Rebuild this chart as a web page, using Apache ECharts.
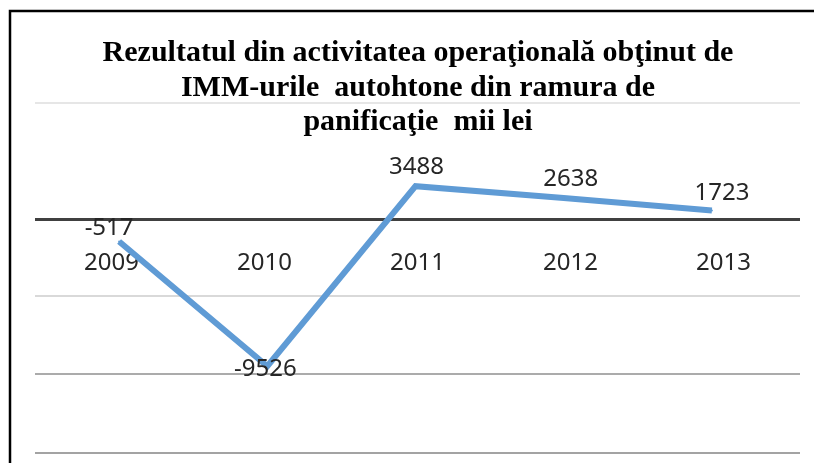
<!DOCTYPE html>
<html>
<head>
<meta charset="utf-8">
<script src="https://cdn.jsdelivr.net/npm/echarts@6/dist/echarts.min.js"></script>
<style>
  html, body { margin: 0; padding: 0; background: #ffffff; }
  #chart { width: 814px; height: 463px; }
</style>
</head>
<body>
<div id="chart"></div>
<script>
// ---- data ----
const titleText = 'Rezultatul din activitatea operaţională obţinut de\nIMM-urile  autohtone din ramura de\npanificaţie  mii lei';
const categories = ['2009', '2010', '2011', '2012', '2013'];
const values = [-517, -9526, 3488, 2638, 1723];
// value range and horizontal rules
const axisMin = -15800;
const axisMax = 9500;
const axisCross = 1080;
const gridValues = [9500, -4440, -10080, -15800];

// ---- layout / styles ----
const chartHeight = 463;
const frameGrid = { left: 35, right: 14, top: 103, bottom: 10 };   // rules + category labels
const lineGrid = { left: 45, right: 28, top: 103, bottom: 10 };    // the data line
const plotHeight = chartHeight - frameGrid.top - frameGrid.bottom;
// move the category labels up to the zero level of the value axis
const zeroOffset = -((0 - axisMin) / (axisMax - axisMin)) * plotHeight;

const gridStyles = [
  { color: '#e6e6e6', width: 2 },
  { color: '#d9d9d9', width: 2 },
  { color: '#ababab', width: 2 },
  { color: '#a3a3a3', width: 2 }
];
const labelPlacement = [
  { position: 'top', offset: [-10, 5] },
  { position: 'inside', offset: [-2, 3] },
  { position: 'top', offset: [1, -1] },
  { position: 'top', offset: [7, -1] },
  { position: 'top', offset: [10, 1] }
];

const chart = echarts.init(document.getElementById('chart'), null, { renderer: 'canvas' });

const ruleData = gridValues.map((v, i) => ({
  yAxis: v,
  lineStyle: { color: gridStyles[i].color, width: gridStyles[i].width, type: 'solid' }
}));
ruleData.push({ yAxis: axisCross, lineStyle: { color: '#404040', width: 3, type: 'solid' } });

const seriesData = values.map((v, i) => ({
  value: v,
  label: { position: labelPlacement[i].position, offset: labelPlacement[i].offset }
}));

const hiddenAxisParts = {
  axisLine: { show: false },
  axisTick: { show: false },
  axisLabel: { show: false },
  splitLine: { show: false }
};

chart.setOption({
  backgroundColor: '#ffffff',
  animation: false,
  title: {
    text: titleText,
    left: 413,
    top: 31,
    textAlign: 'center',
    textStyle: {
      fontFamily: 'Liberation Serif',
      fontWeight: 'bold',
      fontSize: 30,
      lineHeight: 34.5,
      color: '#000000'
    }
  },
  graphic: [{
    type: 'polyline',
    shape: { points: [[10, 463], [10, 11], [814, 11]] },
    style: { stroke: '#000000', lineWidth: 2.5, fill: null },
    silent: true,
    z: 10
  }],
  grid: [
    Object.assign({ containLabel: false, outerBoundsMode: 'none' }, frameGrid),
    Object.assign({ containLabel: false, outerBoundsMode: 'none' }, lineGrid)
  ],
  xAxis: [
    {
      type: 'category',
      gridIndex: 0,
      data: categories,
      boundaryGap: true,
      position: 'bottom',
      offset: zeroOffset,
      axisLine: { show: false, onZero: false },
      axisTick: { show: false },
      axisLabel: {
        show: true,
        margin: 17,
        fontFamily: 'Noto Sans',
        fontSize: 24,
        color: '#262626'
      },
      splitLine: { show: false }
    },
    Object.assign({
      type: 'category',
      gridIndex: 1,
      data: categories,
      boundaryGap: true
    }, hiddenAxisParts)
  ],
  yAxis: [
    Object.assign({ type: 'value', gridIndex: 0, min: axisMin, max: axisMax }, hiddenAxisParts),
    Object.assign({ type: 'value', gridIndex: 1, min: axisMin, max: axisMax }, hiddenAxisParts)
  ],
  series: [
    {
      name: 'rules',
      type: 'line',
      xAxisIndex: 0,
      yAxisIndex: 0,
      data: categories.map(() => null),
      symbol: 'none',
      silent: true,
      clip: false,
      z: 1,
      lineStyle: { width: 0 },
      markLine: {
        silent: true,
        symbol: ['none', 'none'],
        label: { show: false },
        data: ruleData
      }
    },
    {
      name: 'Rezultat',
      type: 'line',
      xAxisIndex: 1,
      yAxisIndex: 1,
      data: seriesData,
      symbol: 'circle',
      symbolSize: 2,
      showSymbol: true,
      itemStyle: { color: '#5f9bd5' },
      z: 5,
      lineStyle: { color: '#5f9bd5', width: 6, cap: 'butt', join: 'miter' },
      label: {
        show: true,
        fontFamily: 'Noto Sans',
        fontSize: 24,
        color: '#262626'
      }
    }
  ]
});
</script>
</body>
</html>
